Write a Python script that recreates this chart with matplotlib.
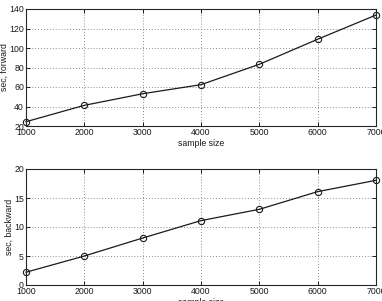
import numpy as np
import matplotlib.pyplot as plt

plt.rcParams['font.family'] = ['Liberation Sans', 'DejaVu Sans']

sample_size = [1000, 2000, 3000, 4000, 5000, 6000, 7000]
sec_forward = [24.4, 41.2, 53.1, 62.4, 83.3, 109.0, 133.8]
sec_backward = [2.2, 5.0, 8.1, 11.1, 13.05, 16.1, 18.05]

fig = plt.figure(figsize=(3.82, 3.01), dpi=100)
ax1 = fig.add_axes([26/382, 1 - 126/301, 350/382, 117/301])
ax2 = fig.add_axes([26/382, 1 - 285/301, 350/382, 116/301])

def style(ax, ylabel, ylim, yticks):
    ax.set_xlim(1000, 7000)
    ax.set_ylim(*ylim)
    ax.set_xticks(sample_size)
    ax.set_yticks(yticks)
    ax.grid(True, linestyle=(0, (1, 2.5)), color='0.4', linewidth=0.6)
    ax.tick_params(direction='in', length=3, labelsize=6.3, pad=1.5,
                   top=True, right=True, width=0.7, colors='0.1')
    ax.set_xlabel('sample size', fontsize=6.3, labelpad=1.5, color='0.1')
    ax.set_ylabel(ylabel, fontsize=6.3, labelpad=0.3, color='0.1')
    for s in ax.spines.values():
        s.set_linewidth(0.8)
        s.set_color('0.15')

style(ax1, 'sec, forward', (20, 140), [20, 40, 60, 80, 100, 120, 140])
ax1.plot(sample_size, sec_forward, '-o', color='0.1', linewidth=0.9,
         markersize=4.5, markerfacecolor='none', markeredgewidth=0.8, clip_on=False)

style(ax2, 'sec, backward', (0, 20), [0, 5, 10, 15, 20])
ax2.plot(sample_size, sec_backward, '-o', color='0.1', linewidth=0.9,
         markersize=4.5, markerfacecolor='none', markeredgewidth=0.8, clip_on=False)

fig.savefig('out.png', dpi=100)
